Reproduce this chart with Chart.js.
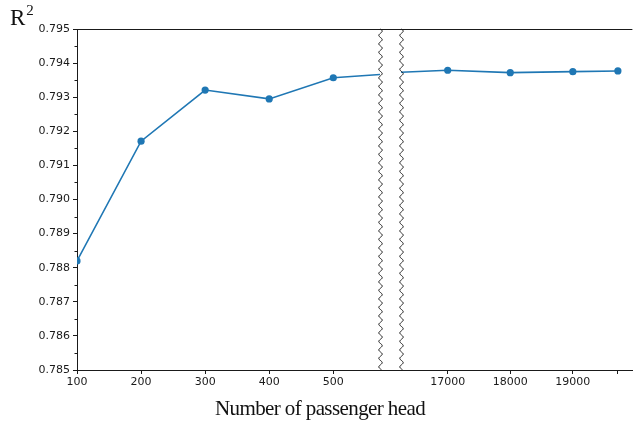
<!DOCTYPE html>
<html>
<head>
<meta charset="utf-8">
<script src="https://cdn.jsdelivr.net/npm/chart.js@4.4.1/dist/chart.umd.min.js"></script>
<style>
  html, body { margin: 0; padding: 0; background: #fff; }
  #wrap { position: relative; width: 636px; height: 424px; overflow: hidden; }
  #wrap canvas { position: absolute; left: 0; top: 0; }
  .serif { position: absolute; font-family: "Liberation Serif", "DejaVu Serif", serif; color: #111; white-space: nowrap; }
  #ytitle { left: 10px; top: 3px; font-size: 23px; }
  #ytitle sup { font-size: 15px; position: relative; top: -1px; margin-left: 1px; }
  #xtitle { left: 2px; width: 636px; text-align: center; top: 396px; font-size: 21px; letter-spacing: -0.6px; }
</style>
</head>
<body>
<div id="wrap">
  <canvas id="leftPart" width="636" height="424"></canvas>
  <canvas id="rightPart" width="636" height="424"></canvas>
  <div class="serif" id="ytitle">R<sup>2</sup></div>
  <div class="serif" id="xtitle">Number of passenger head</div>
</div>
<script>
// Number of passenger heads and the resulting R² score
const heads = [100, 200, 300, 400, 500, 600, 16000, 17000, 18000, 19000, 19720];
const r2    = [0.78820, 0.79171, 0.79321, 0.79295, 0.79357, 0.79370, 0.79371, 0.79379, 0.79372, 0.79375, 0.79377];

// Tick marks on the two pieces of the broken x axis
const leftTicks  = [100, 200, 300, 400, 500];
const rightTicks = [17000, 18000, 19000, 19720];
const rightTickLabels = ['17000', '18000', '19000', ''];
// y axis
const yMajor = [0.785, 0.786, 0.787, 0.788, 0.789, 0.790, 0.791, 0.792, 0.793, 0.794, 0.795];
const yMinor = [0.7855, 0.7865, 0.7875, 0.7885, 0.7895, 0.7905, 0.7915, 0.7925, 0.7935, 0.7945];

const points = heads.map((h, i) => ({ x: h, y: r2[i] }));
const BLUE = '#1f77b4';
const INK = '#1a1a1a';
const TICK_FONT = { family: '"DejaVu Sans", sans-serif', size: 11 };

// Draws the top spine, the wavy break marks and the minor y ticks
const framePlugin = {
  id: 'frame',
  afterDraw(chart, args, opts) {
    const { ctx, chartArea: a } = chart;
    ctx.save();
    ctx.strokeStyle = INK;
    ctx.lineWidth = 1;
    // top spine
    ctx.beginPath();
    ctx.moveTo(a.left, a.top + 0.5);
    ctx.lineTo(a.right, a.top + 0.5);
    ctx.stroke();
    // wavy break line
    const wave = (x0) => {
      ctx.beginPath();
      for (let y = a.top; y <= a.bottom; y += 0.5) {
        const x = x0 + 1.7 * Math.sin(2 * Math.PI * (y - a.top) / 8.5);
        if (y === a.top) ctx.moveTo(x, y); else ctx.lineTo(x, y);
      }
      ctx.stroke();
    };
    if (opts.side === 'right') {
      wave(a.right + 0.5);
      const gap = opts.gap || 21;
      ctx.beginPath();
      ctx.moveTo(a.right, a.top + 0.5); ctx.lineTo(a.right + gap, a.top + 0.5);
      ctx.moveTo(a.right, a.bottom + 0.5); ctx.lineTo(a.right + gap, a.bottom + 0.5);
      ctx.stroke();
      // minor ticks on y
      const ys = chart.scales.y;
      ctx.beginPath();
      yMinor.forEach(v => {
        const py = Math.round(ys.getPixelForValue(v)) + 0.5;
        ctx.moveTo(a.left - 2.5, py); ctx.lineTo(a.left, py);
      });
      ctx.stroke();
    } else {
      wave(a.left + 0.5);
    }
    ctx.restore();
  }
};

function baseY(show) {
  return {
    type: 'linear',
    min: 0.785, max: 0.795,
    display: show,
    afterBuildTicks: s => { s.ticks = yMajor.map(v => ({ value: v })); },
    afterFit: s => { if (show) s.width = 77; },
    border: { display: show, color: INK, width: 1 },
    grid: { drawOnChartArea: false, drawTicks: true, tickLength: 4, tickColor: INK },
    ticks: { color: '#1a1a1a', font: TICK_FONT, padding: 3, callback: v => v.toFixed(3) }
  };
}

function baseX(min, max, ticks, labels) {
  return {
    type: 'linear',
    min, max,
    afterBuildTicks: s => { s.ticks = ticks.map(v => ({ value: v })); },
    afterFit: s => { s.height = 54; },
    border: { color: INK, width: 1 },
    grid: { drawOnChartArea: false, drawTicks: true, tickLength: 4, tickColor: INK },
    ticks: {
      color: '#1a1a1a', font: TICK_FONT, padding: 2, maxRotation: 0, autoSkip: false,
      callback: (v) => { const i = ticks.indexOf(v); return labels ? labels[i] : String(v); }
    }
  };
}

function makeChart(id, xScale, showY, padding, side) {
  return new Chart(document.getElementById(id), {
    type: 'line',
    data: {
      datasets: [{
        data: points,
        borderColor: BLUE,
        backgroundColor: BLUE,
        borderWidth: 1.6,
        pointRadius: 3.6,
        pointHoverRadius: 3.6,
        pointBorderWidth: 0,
        tension: 0,
        clip: 0
      }]
    },
    options: {
      responsive: false,
      animation: false,
      events: [],
      layout: { padding },
      plugins: { legend: { display: false }, tooltip: { enabled: false }, frame: { side } },
      scales: { x: xScale, y: baseY(showY) }
    },
    plugins: [framePlugin]
  });
}

makeChart('leftPart', baseX(100, 572.9, leftTicks, null), true,
  { left: 0, right: 256, top: 29, bottom: 0 }, 'right');
makeChart('rightPart', baseX(16254, 19952, rightTicks, rightTickLabels), false,
  { left: 401, right: 2, top: 29, bottom: 0 }, 'left');
</script>
</body>
</html>
